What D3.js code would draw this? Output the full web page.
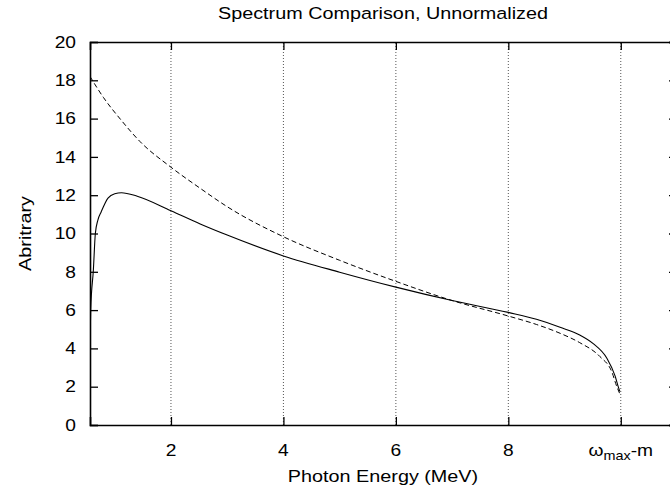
<!DOCTYPE html>
<html>
<head>
<meta charset="utf-8">
<script src="https://cdn.jsdelivr.net/npm/d3@7"></script>
<style>
  html, body { margin: 0; padding: 0; background: #fff; }
  text { font-family: "Liberation Sans", Arial, Helvetica, sans-serif; fill: #000; }
</style>
</head>
<body>
<svg id="chart" width="670" height="489"></svg>
<script>
// ---- data ----
const title = "Spectrum Comparison, Unnormalized";
const xLabel = "Photon Energy (MeV)";
const yLabel = "Abritrary";
const xDomain = [0.56, 11.0];
const yDomain = [0, 20];
const xTickValues = [2, 4, 6, 8, 10];
const xTickLabels = ["2", "4", "6", "8", "ωmax-m"];
const yTickValues = [0, 2, 4, 6, 8, 10, 12, 14, 16, 18, 20];

// solid curve
const solidX = [0.56, 0.572, 0.62, 0.655, 0.70, 0.76, 0.88, 1.0, 1.12, 1.4, 2.0, 2.52, 3.0, 4.0, 5.0, 6.0, 7.0, 8.0, 8.5, 8.92, 9.27, 9.51, 9.75, 9.9, 9.96, 9.985];
const solidY = [4.2, 6.0, 8.1, 10.0, 10.7, 11.14, 11.85, 12.08, 12.13, 11.95, 11.19, 10.5, 9.92, 8.83, 7.98, 7.2, 6.5, 5.88, 5.52, 5.1, 4.7, 4.25, 3.5, 2.55, 1.95, 1.75];

// dashed curve
const dashedX = [0.56, 0.8, 1.12, 1.45, 2.0, 2.52, 3.0, 4.0, 5.0, 6.0, 7.0, 8.0, 8.5, 8.92, 9.27, 9.63, 9.84, 9.93, 9.98];
const dashedY = [18.2, 17.1, 15.9, 14.8, 13.46, 12.36, 11.4, 9.83, 8.6, 7.5, 6.5, 5.69, 5.25, 4.79, 4.3, 3.57, 2.78, 2.0, 1.65];

// ---- layout ----
const L = 90, R = 677, T = 42, B = 425;
const SX = 1.2; // glyph widening to match reference
const svg = d3.select("#chart");
const x = d3.scaleLinear().domain(xDomain).range([L, R]);
const y = d3.scaleLinear().domain(yDomain).range([B, T]);

// grid (vertical dotted)
svg.append("g").selectAll("line").data(xTickValues).join("line")
  .attr("x1", d => x(d)).attr("x2", d => x(d))
  .attr("y1", B).attr("y2", T)
  .attr("stroke", "#555").attr("stroke-width", 1)
  .attr("stroke-dasharray", "1,2");

// clip
svg.append("defs").append("clipPath").attr("id", "clip")
  .append("rect").attr("x", L).attr("y", T).attr("width", R - L).attr("height", B - T);

const line = d3.line().x(d => x(d[0])).y(d => y(d[1])).curve(d3.curveMonotoneX);
const solid = solidX.map((v, i) => [v, solidY[i]]);
const dashed = dashedX.map((v, i) => [v, dashedY[i]]);

svg.append("path").datum(dashed).attr("d", line)
  .attr("clip-path", "url(#clip)")
  .attr("fill", "none").attr("stroke", "#000").attr("stroke-width", 1)
  .attr("stroke-dasharray", "5,3");
svg.append("path").datum(solid).attr("d", line)
  .attr("clip-path", "url(#clip)")
  .attr("fill", "none").attr("stroke", "#000").attr("stroke-width", 1.1);

// axes with inward ticks
const tk = 8;
const axB = d3.axisBottom(x).tickValues(xTickValues).tickSize(-tk).tickFormat("");
const axT = d3.axisTop(x).tickValues(xTickValues).tickSize(-tk).tickFormat("");
const axL = d3.axisLeft(y).tickValues(yTickValues).tickSize(-tk).tickFormat("");
const axR = d3.axisRight(y).tickValues(yTickValues).tickSize(-tk).tickFormat("");
[[axB, `translate(0,${B})`], [axT, `translate(0,${T})`], [axL, `translate(${L},0)`], [axR, `translate(${R},0)`]]
  .forEach(([ax, tr]) => {
    const g = svg.append("g").attr("transform", tr).call(ax);
    g.select(".domain").attr("stroke", "#000").attr("stroke-width", 1.6);
    g.selectAll(".tick line").attr("stroke", "#000").attr("stroke-width", 1.3);
  });

// y tick labels
svg.append("g").selectAll("text").data(yTickValues).join("text")
  .attr("transform", d => `translate(76,${y(d)}) scale(${SX},1)`)
  .attr("dy", "0.36em")
  .attr("text-anchor", "end").attr("font-size", 16)
  .text(d => d);

// x tick labels
const xl = svg.append("g").selectAll("text").data(xTickValues).join("text")
  .attr("transform", d => `translate(${x(d)},456) scale(${SX},1)`)
  .attr("text-anchor", "middle").attr("font-size", 16);
xl.each(function(d, i) {
  const t = d3.select(this);
  const lab = xTickLabels[i];
  if (lab.startsWith("ω")) {
    t.append("tspan").text("ω");
    t.append("tspan").attr("font-size", 12).attr("dy", 4).text("max");
    t.append("tspan").attr("dy", -4).text("-m");
  } else {
    t.text(lab);
  }
});

// title & axis labels
svg.append("text").attr("transform", `translate(383,19) scale(${SX},1)`).attr("text-anchor", "middle")
  .attr("font-size", 16.5).text(title);
svg.append("text").attr("transform", `translate(383,482) scale(${SX},1)`).attr("text-anchor", "middle")
  .attr("font-size", 16.5).text(xLabel);
svg.append("text").attr("transform", `translate(31,${(T + B) / 2}) rotate(-90) scale(${SX},1)`)
  .attr("text-anchor", "middle").attr("font-size", 16.5).text(yLabel);
</script>
</body>
</html>
